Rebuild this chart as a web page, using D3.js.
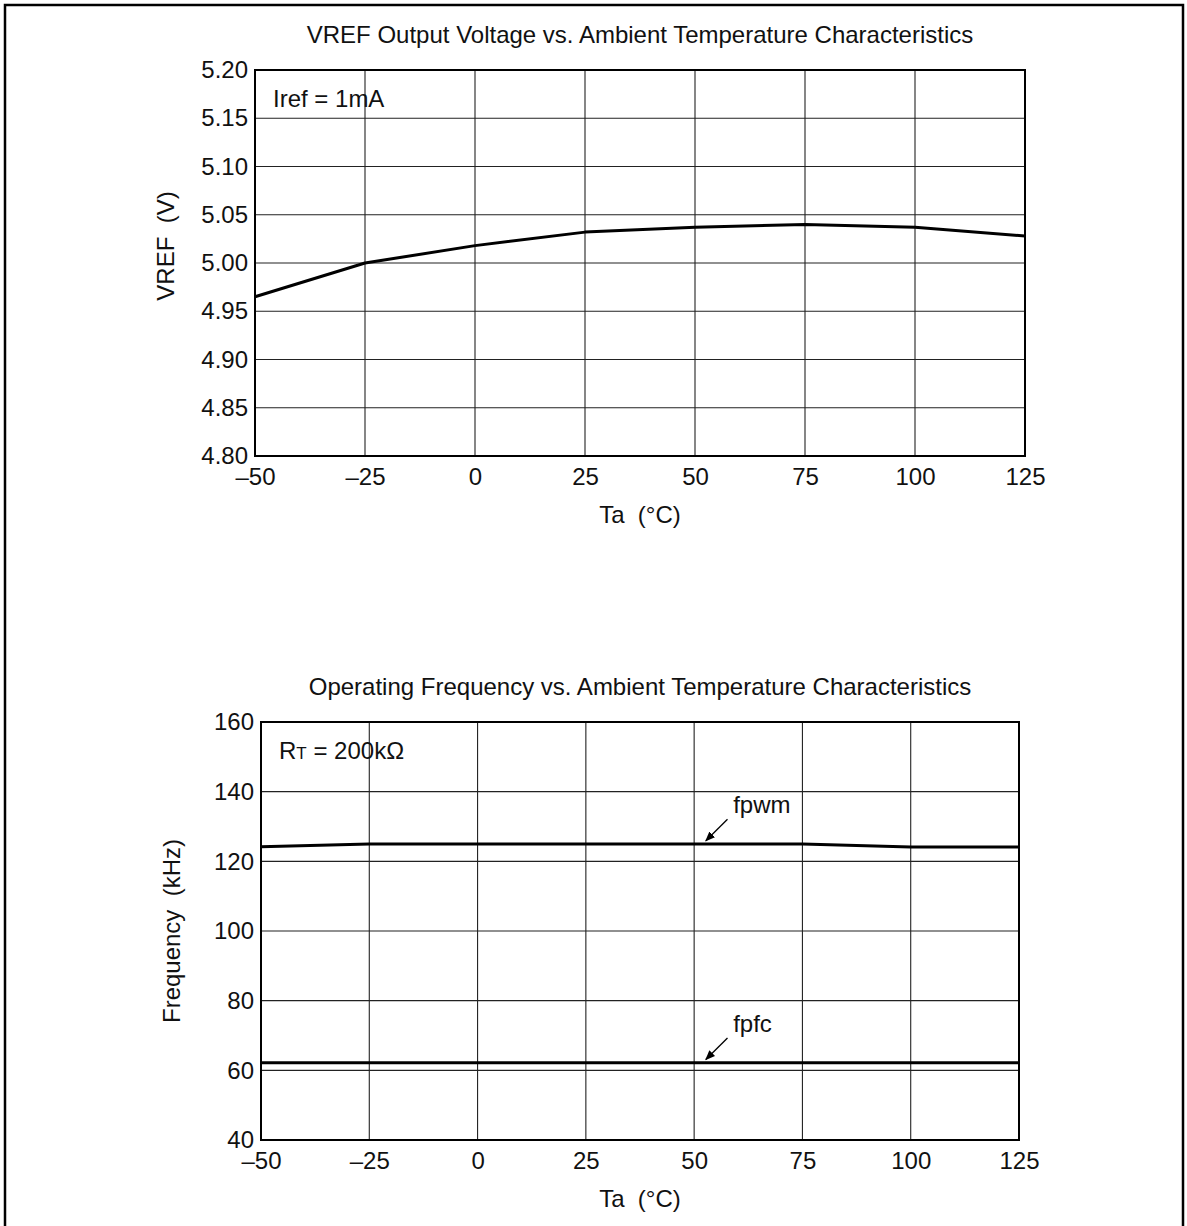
<!DOCTYPE html>
<html>
<head>
<meta charset="utf-8">
<script src="https://cdn.jsdelivr.net/npm/d3@7"></script>
<style>
  body { margin: 0; background: #fff; }
  svg text { font-family: "Liberation Sans", Arial, Helvetica, sans-serif; fill: #111; }
</style>
</head>
<body>
<svg id="chart"></svg>
<script>
/* Data */

var tempTicks = [-50, -25, 0, 25, 50, 75, 100, 125];

var vrefTemp = [-50, -25, 0, 25, 50, 75, 100, 125];
var vrefValues = [4.965, 5.000, 5.018, 5.032, 5.037, 5.040, 5.037, 5.028];
var vrefTicks = [4.80, 4.85, 4.90, 4.95, 5.00, 5.05, 5.10, 5.15, 5.20];

var freqTemp = [-50, -25, 0, 25, 50, 75, 100, 125];
var fpwmValues = [124.2, 125.0, 125.0, 125.0, 125.0, 125.0, 124.1, 124.1];
var fpfcValues = [62.2, 62.2, 62.2, 62.2, 62.2, 62.2, 62.2, 62.2];
var freqTicks = [40, 60, 80, 100, 120, 140, 160];

/* label text, arrow start, arrow tip -- in data units */
var freqNotes = [
    { text: 'fpwm', lx: 59, ly: 133.9, x1: 57.7, y1: 132.1, x2: 52.7, y2: 125.9 },
    { text: 'fpfc', lx: 59, ly: 71.1, x1: 57.7, y1: 69.3, x2: 52.7, y2: 63.1 }
];

(function () {
    'use strict';

    var width = 1187,
        height = 1226,
        fontSize = '24px';

    var svg = d3.select('#chart')
        .attr('width', width)
        .attr('height', height);

    // outer frame (open at the bottom, runs off the page)
    svg.append('path')
        .attr('d', 'M5,' + height + 'V5H1183V' + height)
        .attr('fill', 'none')
        .attr('stroke', '#000')
        .attr('stroke-width', 2.5);

    var defs = svg.append('defs');
    defs.append('marker')
        .attr('id', 'arrow')
        .attr('viewBox', '0 0 10 10')
        .attr('refX', 9).attr('refY', 5)
        .attr('markerWidth', 10).attr('markerHeight', 10)
        .attr('markerUnits', 'userSpaceOnUse')
        .attr('orient', 'auto')
        .append('path')
        .attr('d', 'M0,1L10,5L0,9Z')
        .attr('fill', '#000');

    function fmtTemp(d) {
        return d < 0 ? '\u2013' + Math.abs(d) : String(d);
    }

    function panel(cfg) {
        var x = d3.scaleLinear().domain([-50, 125]).range([cfg.left, cfg.right]);
        var y = d3.scaleLinear().domain(cfg.yDomain).range([cfg.bottom, cfg.top]);
        var g = svg.append('g');

        // grid
        g.append('g').selectAll('line.v')
            .data(tempTicks.slice(1, -1))
            .join('line')
            .attr('x1', function (d) { return x(d); })
            .attr('x2', function (d) { return x(d); })
            .attr('y1', cfg.top).attr('y2', cfg.bottom)
            .attr('stroke', '#222').attr('stroke-width', 1.1);

        g.append('g').selectAll('line.h')
            .data(cfg.yTicks.slice(1, -1))
            .join('line')
            .attr('x1', cfg.left).attr('x2', cfg.right)
            .attr('y1', function (d) { return y(d); })
            .attr('y2', function (d) { return y(d); })
            .attr('stroke', '#222').attr('stroke-width', 1.1);

        // axes (labels only, frame drawn separately)
        var xAxis = g.append('g')
            .attr('transform', 'translate(0,' + cfg.bottom + ')')
            .call(d3.axisBottom(x).tickValues(tempTicks).tickFormat(fmtTemp).tickSize(0).tickPadding(12));
        var yAxis = g.append('g')
            .attr('transform', 'translate(' + cfg.left + ',0)')
            .call(d3.axisLeft(y).tickValues(cfg.yTicks).tickFormat(cfg.yFormat).tickSize(0).tickPadding(7));
        [xAxis, yAxis].forEach(function (a) {
            a.select('.domain').remove();
            a.selectAll('text')
                .style('font-size', fontSize)
                .style('font-family', '"Liberation Sans", Arial, sans-serif')
                .attr('fill', '#111');
        });

        // frame
        g.append('rect')
            .attr('x', cfg.left).attr('y', cfg.top)
            .attr('width', cfg.right - cfg.left)
            .attr('height', cfg.bottom - cfg.top)
            .attr('fill', 'none')
            .attr('stroke', '#000')
            .attr('stroke-width', 2);

        // curves
        var line = d3.line()
            .x(function (d) { return x(d[0]); })
            .y(function (d) { return y(d[1]); });

        cfg.series.forEach(function (s) {
            g.append('path')
                .datum(d3.zip(s.temps, s.values))
                .attr('d', line)
                .attr('fill', 'none')
                .attr('stroke', '#000')
                .attr('stroke-width', 3)
                .attr('stroke-linejoin', 'round');
        });

        // title
        g.append('text')
            .attr('x', (cfg.left + cfg.right) / 2)
            .attr('y', cfg.top - 27)
            .attr('text-anchor', 'middle')
            .style('font-size', fontSize)
            .text(cfg.title);

        // axis titles
        g.append('text')
            .attr('x', (cfg.left + cfg.right) / 2)
            .attr('y', cfg.bottom + 67)
            .attr('text-anchor', 'middle')
            .style('font-size', fontSize)
            .style('white-space', 'pre')
            .text('Ta  (\u00b0C)');

        g.append('text')
            .attr('transform', 'translate(' + cfg.yLabelX + ',' + ((cfg.top + cfg.bottom) / 2 + cfg.yLabelShift) + ') rotate(-90)')
            .attr('text-anchor', 'middle')
            .style('font-size', fontSize)
            .style('white-space', 'pre')
            .text(cfg.yLabel);

        return { g: g, x: x, y: y };
    }

    /* Top: VREF */

    var top = panel({
        left: 255, right: 1025, top: 70, bottom: 456,
        yDomain: [4.80, 5.20],
        yTicks: vrefTicks,
        yFormat: d3.format('.2f'),
        title: 'VREF Output Voltage vs. Ambient Temperature Characteristics',
        yLabel: 'VREF  (V)',
        yLabelX: 174, yLabelShift: -17,
        series: [{ temps: vrefTemp, values: vrefValues }]
    });

    top.g.append('text')
        .attr('x', 273).attr('y', 107)
        .style('font-size', fontSize)
        .text('Iref = 1mA');

    /* Bottom: frequency */

    var bot = panel({
        left: 261, right: 1019, top: 722, bottom: 1140,
        yDomain: [40, 160],
        yTicks: freqTicks,
        yFormat: d3.format('d'),
        title: 'Operating Frequency vs. Ambient Temperature Characteristics',
        yLabel: 'Frequency  (kHz)',
        yLabelX: 180, yLabelShift: 0,
        series: [
            { temps: freqTemp, values: fpwmValues },
            { temps: freqTemp, values: fpfcValues }
        ]
    });

    var rt = bot.g.append('text')
        .attr('x', 279).attr('y', 759)
        .style('font-size', fontSize);
    rt.append('tspan').text('R');
    rt.append('tspan').style('font-size', '17px').text('T');
    rt.append('tspan').text(' = 200k\u03a9');

    freqNotes.forEach(function (n) {
        bot.g.append('line')
            .attr('x1', bot.x(n.x1)).attr('y1', bot.y(n.y1))
            .attr('x2', bot.x(n.x2)).attr('y2', bot.y(n.y2))
            .attr('stroke', '#000').attr('stroke-width', 1.3)
            .attr('marker-end', 'url(#arrow)');
        bot.g.append('text')
            .attr('x', bot.x(n.lx)).attr('y', bot.y(n.ly))
            .style('font-size', fontSize)
            .text(n.text);
    });

})();
</script>
</body>
</html>
